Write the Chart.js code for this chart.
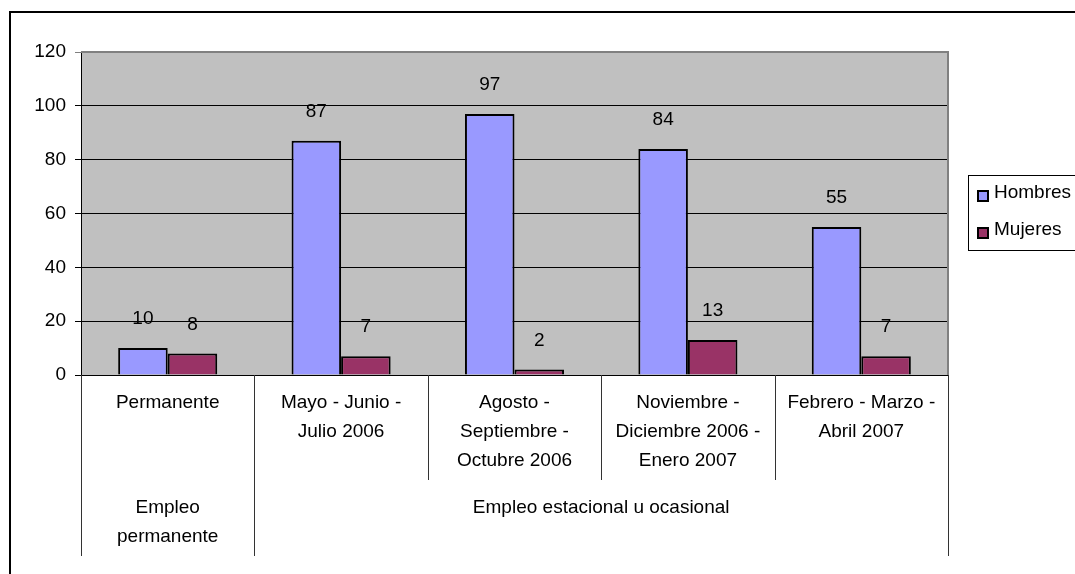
<!DOCTYPE html>
<html lang="es">
<head>
    <meta charset="UTF-8">
    <title>Empleo por periodo</title>
    <script src="https://cdn.jsdelivr.net/npm/chart.js"></script>
    <style>
        body {
            margin: 0;
            padding: 0;
            background-color: #fff;
        }
        .chart-box {
            position: relative;
            width: 1075px;
            height: 574px;
        }
    </style>
</head>
<body>
    <div class="chart-box">
        <canvas id="empleoChart"></canvas>
    </div>

    <script>
        const periodos = [
            ['Permanente'],
            ['Mayo - Junio -', 'Julio 2006'],
            ['Agosto -', 'Septiembre -', 'Octubre 2006'],
            ['Noviembre -', 'Diciembre 2006 -', 'Enero 2007'],
            ['Febrero - Marzo -', 'Abril 2007']
        ];
        // grupos de segundo nivel: texto, primera y ultima categoria
        const tiposEmpleo = [
            { label: ['Empleo', 'permanente'], from: 0, to: 0 },
            { label: ['Empleo estacional u ocasional'], from: 1, to: 4 }
        ];
        const hombres = [10, 87, 97, 84, 55];
        const mujeres = [8, 7, 2, 13, 7];
        const yTicks = [0, 20, 40, 60, 80, 100, 120];

        const FONT_FAMILY = '"Liberation Sans", Arial, sans-serif';
        const FONT = '19px ' + FONT_FAMILY;

        const chartFrame = {
            id: 'chartFrame',
            beforeDraw(chart) {
                const { ctx, chartArea: a } = chart;
                ctx.save();
                ctx.fillStyle = '#c0c0c0';
                ctx.fillRect(a.left, a.top, a.right - a.left, a.bottom - a.top);
                // borde exterior (solo arriba e izquierda quedan visibles)
                ctx.strokeStyle = '#000';
                ctx.lineWidth = 2;
                ctx.beginPath();
                ctx.moveTo(10, chart.height);
                ctx.lineTo(10, 12);
                ctx.lineTo(chart.width, 12);
                ctx.stroke();
                ctx.restore();
            },
            afterDatasetsDraw(chart) {
                const { ctx, chartArea: a } = chart;
                ctx.save();
                // borde gris del area de trazado
                ctx.strokeStyle = '#808080';
                ctx.lineWidth = 2;
                ctx.beginPath();
                ctx.moveTo(a.left, a.top);
                ctx.lineTo(a.right, a.top);
                ctx.lineTo(a.right, a.bottom);
                ctx.stroke();

                // eje X y separadores de categorias
                const x = chart.scales.x;
                const step = (a.right - a.left) / periodos.length;
                ctx.strokeStyle = '#000';
                ctx.lineWidth = 1;
                ctx.beginPath();
                ctx.moveTo(a.left, a.bottom + 0.5);
                ctx.lineTo(a.right, a.bottom + 0.5);
                ctx.stroke();
                ctx.strokeStyle = '#333';
                const groupEdges = new Set();
                tiposEmpleo.forEach(g => { groupEdges.add(g.from); groupEdges.add(g.to + 1); });
                for (let i = 0; i <= periodos.length; i++) {
                    const px = Math.round(a.left + i * step) + 0.5;
                    const bottom = groupEdges.has(i) ? a.bottom + 181 : a.bottom + 105;
                    ctx.beginPath();
                    ctx.moveTo(px, a.bottom);
                    ctx.lineTo(px, bottom);
                    ctx.stroke();
                }

                ctx.fillStyle = '#000';
                ctx.font = FONT;
                ctx.textAlign = 'center';
                ctx.textBaseline = 'middle';
                periodos.forEach((lines, i) => {
                    const cx = x.getPixelForValue(i);
                    lines.forEach((t, j) => ctx.fillText(t, cx, a.bottom + 28 + j * 29));
                });
                tiposEmpleo.forEach(g => {
                    const cx = (a.left + g.from * step + a.left + (g.to + 1) * step) / 2;
                    g.label.forEach((t, j) => ctx.fillText(t, cx, a.bottom + 133 + j * 29));
                });

                // etiquetas de valor sobre cada barra
                chart.data.datasets.forEach((ds, di) => {
                    chart.getDatasetMeta(di).data.forEach((bar, i) => {
                        ctx.fillText(String(ds.data[i]), bar.x, bar.y - 29);
                    });
                });

                // leyenda
                ctx.strokeStyle = '#000';
                ctx.lineWidth = 1;
                ctx.strokeRect(968.5, 175.5, 120, 75);
                ctx.textAlign = 'left';
                chart.data.datasets.forEach((ds, di) => {
                    const cy = 193 + di * 37;
                    ctx.fillStyle = ds.backgroundColor;
                    ctx.fillRect(978, cy - 2, 10, 10);
                    ctx.lineWidth = 2;
                    ctx.strokeRect(978, cy - 2, 10, 10);
                    ctx.fillStyle = '#000';
                    ctx.fillText(ds.label, 994, cy);
                });
                ctx.restore();
            }
        };

        const ctx = document.getElementById('empleoChart').getContext('2d');
        new Chart(ctx, {
            type: 'bar',
            data: {
                labels: periodos.map(p => p.join(' ')),
                datasets: [{
                    label: 'Hombres',
                    data: hombres,
                    backgroundColor: '#9999ff',
                    borderColor: '#000',
                    borderWidth: 2,
                    categoryPercentage: 2 / 3.5,
                    barPercentage: 1
                }, {
                    label: 'Mujeres',
                    data: mujeres,
                    backgroundColor: '#993366',
                    borderColor: '#000',
                    borderWidth: 2,
                    categoryPercentage: 2 / 3.5,
                    barPercentage: 1
                }]
            },
            options: {
                responsive: true,
                maintainAspectRatio: false,
                animation: false,
                layout: {
                    padding: { left: 0, top: 52, right: 127, bottom: 199 }
                },
                plugins: {
                    legend: { display: false },
                    tooltip: { enabled: false }
                },
                scales: {
                    x: {
                        display: false
                    },
                    y: {
                        min: 0,
                        max: 120,
                        afterFit(scale) { scale.width = 81; },
                        afterBuildTicks(scale) { scale.ticks = yTicks.map(v => ({ value: v })); },
                        border: { display: true, color: '#000', width: 1 },
                        grid: {
                            color: c => c.tick && c.tick.value === 120 ? '#808080' : '#000',
                            lineWidth: 1,
                            tickLength: 6,
                            drawTicks: true
                        },
                        ticks: {
                            color: '#000',
                            padding: 9,
                            font: { family: FONT_FAMILY, size: 19 }
                        }
                    }
                }
            },
            plugins: [chartFrame]
        });
    </script>
</body>
</html>
